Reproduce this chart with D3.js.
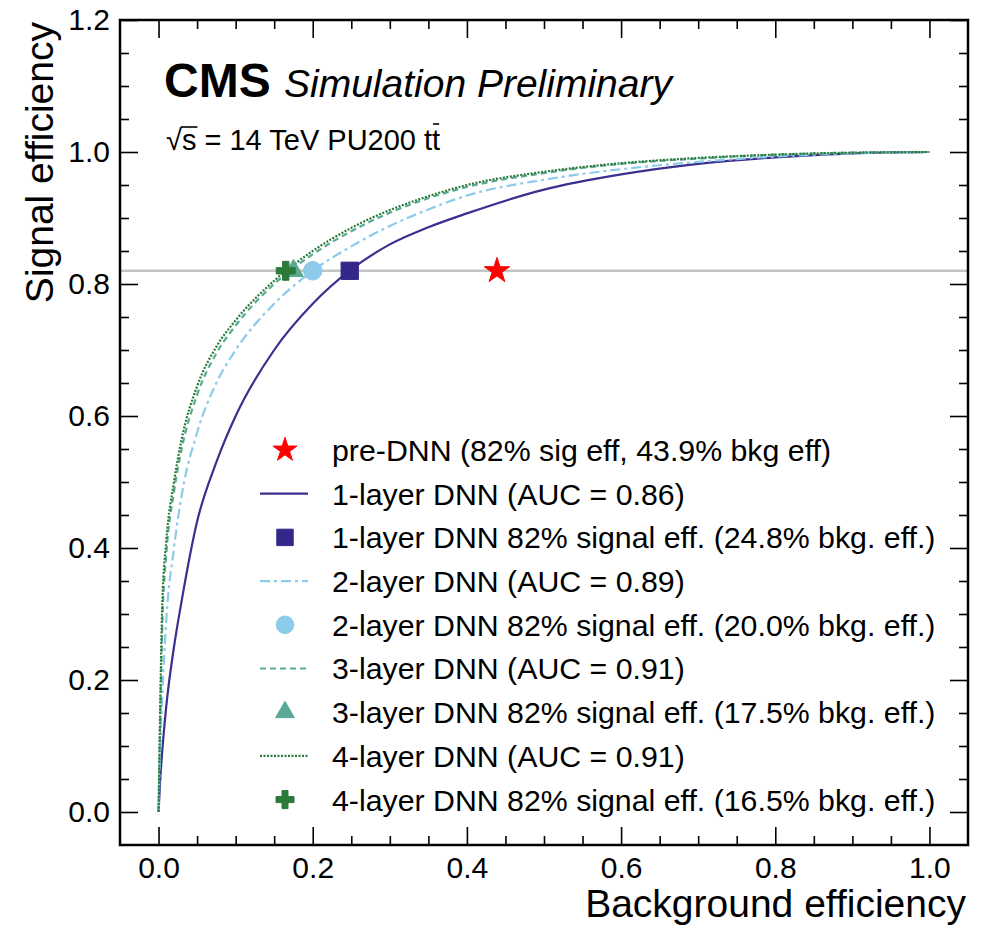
<!DOCTYPE html>
<html>
<head>
<meta charset="utf-8">
<script src="https://cdn.jsdelivr.net/npm/d3@7"></script>
<style>
  body { margin: 0; background: #fff; }
  text { font-family: "Liberation Sans", Arial, sans-serif; fill: #000; }
</style>
</head>
<body>
<svg id="chart" width="989" height="929"></svg>
<script>
// background efficiency grid shared by all ROC curves
const bkgEff = [0, 0.002, 0.005, 0.01, 0.02, 0.03, 0.05, 0.075, 0.1, 0.15, 0.2, 0.25, 0.3, 0.35, 0.4, 0.5, 0.6, 0.7, 0.8, 0.9, 1.0];
// signal efficiency
const sig1Layer = [0, 0.045, 0.095, 0.16, 0.25, 0.32, 0.44, 0.53, 0.60, 0.70, 0.77, 0.822, 0.86, 0.886, 0.907, 0.943, 0.966, 0.982, 0.992, 0.998, 1.0];
const sig2Layer = [0, 0.09, 0.18, 0.29, 0.40, 0.48, 0.575, 0.65, 0.70, 0.77, 0.82, 0.857, 0.888, 0.913, 0.934, 0.958, 0.974, 0.985, 0.993, 0.998, 1.0];
const sig3Layer = [0, 0.13, 0.29, 0.39, 0.485, 0.55, 0.632, 0.695, 0.737, 0.80, 0.845, 0.88, 0.908, 0.93, 0.947, 0.968, 0.982, 0.99, 0.996, 0.999, 1.0];
const sig4Layer = [0, 0.15, 0.32, 0.41, 0.50, 0.565, 0.645, 0.705, 0.745, 0.805, 0.85, 0.885, 0.912, 0.933, 0.95, 0.97, 0.983, 0.991, 0.996, 0.999, 1.0];

// working points at 82% signal efficiency
const wpSignal = 0.82;
const wpBkg = [0.439, 0.248, 0.200, 0.175, 0.165];

const xMajorTicks = [0, 0.2, 0.4, 0.6, 0.8, 1.0];
const yMajorTicks = [0, 0.2, 0.4, 0.6, 0.8, 1.0, 1.2];

const legendLabels = [
  "pre-DNN (82% sig eff, 43.9% bkg eff)",
  "1-layer DNN (AUC = 0.86)",
  "1-layer DNN 82% signal eff. (24.8% bkg. eff.)",
  "2-layer DNN (AUC = 0.89)",
  "2-layer DNN 82% signal eff. (20.0% bkg. eff.)",
  "3-layer DNN (AUC = 0.91)",
  "3-layer DNN 82% signal eff. (17.5% bkg. eff.)",
  "4-layer DNN (AUC = 0.91)",
  "4-layer DNN 82% signal eff. (16.5% bkg. eff.)"
];

const svg = d3.select("#chart");
const plotLeft = 120, plotTop = 20, plotRight = 968, plotBottom = 845;

const x = d3.scaleLinear().domain([-0.05, 1.05]).range([plotLeft, plotRight]);
const y = d3.scaleLinear().domain([-0.05, 1.2]).range([plotBottom, plotTop]);

const purple = "#3b2f8f", lightBlue = "#8ccbea", teal = "#5aa996", green = "#2b7a38";

// minor ticks every 0.05
function minors(lo, hi, majors) {
  const out = [];
  for (let i = Math.round(lo / 0.05); i <= Math.round(hi / 0.05); i++) {
    const v = +(i * 0.05).toFixed(2);
    if (!majors.some(m => Math.abs(m - v) < 1e-6)) out.push(v);
  }
  return out;
}
const xMinor = minors(0.05, 1.0, xMajorTicks);
const yMinor = minors(0.05, 1.15, yMajorTicks);

// axes (ticks point inward on all four sides)
const fmt = d3.format(".1f");
function addAxis(axisFn, scale, pos, values, size, labels) {
  const g = svg.append("g")
    .attr("transform", pos)
    .call(axisFn(scale).tickValues(values).tickSize(-size).tickPadding(8)
      .tickFormat(labels ? fmt : ""));
  g.select(".domain").remove();
  g.selectAll("line").attr("stroke", "#000").attr("stroke-width", 1.6);
  return g;
}
const xb = addAxis(d3.axisBottom, x, `translate(0,${plotBottom})`, xMajorTicks, 18, true);
addAxis(d3.axisBottom, x, `translate(0,${plotBottom})`, xMinor, 9, false);
addAxis(d3.axisTop, x, `translate(0,${plotTop})`, xMajorTicks, 18, false);
addAxis(d3.axisTop, x, `translate(0,${plotTop})`, xMinor, 9, false);
const yl = addAxis(d3.axisLeft, y, `translate(${plotLeft},0)`, yMajorTicks, 18, true);
addAxis(d3.axisLeft, y, `translate(${plotLeft},0)`, yMinor, 9, false);
addAxis(d3.axisRight, y, `translate(${plotRight},0)`, yMajorTicks, 18, false);
addAxis(d3.axisRight, y, `translate(${plotRight},0)`, yMinor, 9, false);

xb.selectAll("text").attr("font-size", 30).attr("y", 12).attr("dy", "0.71em")
  .style("font-family", "'Liberation Sans', Arial, sans-serif").attr("fill", "#111");
yl.selectAll("text").attr("font-size", 30).attr("x", -10)
  .style("font-family", "'Liberation Sans', Arial, sans-serif").attr("fill", "#111");

// horizontal reference line at 82% signal efficiency
svg.append("line")
  .attr("x1", plotLeft).attr("x2", plotRight)
  .attr("y1", y(wpSignal)).attr("y2", y(wpSignal))
  .attr("stroke", "#c4c4c4").attr("stroke-width", 2.5);

// ROC curves
svg.append("clipPath").attr("id", "plotClip")
  .append("rect").attr("x", plotLeft).attr("y", plotTop)
  .attr("width", plotRight - plotLeft).attr("height", plotBottom - plotTop);

const curves = [
  { sig: sig1Layer, color: purple, dash: null, width: 2.2 },
  { sig: sig2Layer, color: lightBlue, dash: "10,4,3,4", width: 2.2 },
  { sig: sig3Layer, color: teal, dash: "6,4", width: 2.2 },
  { sig: sig4Layer, color: green, dash: "2,1.5", width: 2.2 }
];
const line = d3.line().x(d => x(d[0])).y(d => y(d[1])).curve(d3.curveMonotoneX);

svg.append("g").attr("clip-path", "url(#plotClip)")
  .selectAll("path")
  .data(curves)
  .enter()
  .append("path")
  .attr("d", c => line(bkgEff.map((b, i) => [b, c.sig[i]])))
  .attr("fill", "none")
  .attr("stroke", d => d.color)
  .attr("stroke-width", d => d.width)
  .attr("stroke-dasharray", d => d.dash);

// markers
const markers = [
  { type: d3.symbolStar, size: 200, color: "#ff0000" },
  { type: d3.symbolSquare, size: 300, color: "#33288a" },
  { type: d3.symbolCircle, size: 270, color: lightBlue },
  { type: d3.symbolTriangle, size: 170, color: teal },
  { type: d3.symbolCross, size: 200, color: green }
];
svg.append("g")
  .selectAll("path")
  .data(markers.map((m, i) => ({ ...m, bkg: wpBkg[i] })))
  .enter()
  .append("path")
  .attr("transform", d => `translate(${x(d.bkg)},${y(wpSignal)})`)
  .attr("d", d => d3.symbol().type(d.type).size(d.size)())
  .attr("fill", d => d.color)
  .attr("stroke", d => d.color)
  .attr("stroke-width", 1)
  .attr("stroke-linejoin", "round");

// legend
const legendX = 285, legendY0 = 450, legendStep = 43.7;
const legendItems = legendLabels.map((label, i) => {
  if (i === 0) return { label, kind: "marker", m: markers[0] };
  const k = Math.floor((i - 1) / 2);
  return (i - 1) % 2 === 0
    ? { label, kind: "line", c: curves[k] }
    : { label, kind: "marker", m: markers[k + 1] };
});
const lg = svg.append("g");
legendItems.forEach((item, i) => {
  const cy = legendY0 + i * legendStep;
  if (item.kind === "line") {
    lg.append("line")
      .attr("x1", legendX - 25).attr("x2", legendX + 23)
      .attr("y1", cy).attr("y2", cy)
      .attr("stroke", item.c.color).attr("stroke-width", 2.2)
      .attr("stroke-dasharray", item.c.dash);
  } else {
    lg.append("path")
      .attr("transform", `translate(${legendX},${cy})`)
      .attr("d", d3.symbol().type(item.m.type).size(item.m.size * 0.9)())
      .attr("fill", item.m.color)
      .attr("stroke", item.m.color)
      .attr("stroke-width", 1)
      .attr("stroke-linejoin", "round");
  }
  lg.append("text")
    .attr("x", 332).attr("y", cy).attr("dy", "0.36em")
    .attr("font-size", 30.3).attr("fill", "#111")
    .text(item.label);
});

// frame
svg.append("rect")
  .attr("x", plotLeft).attr("y", plotTop)
  .attr("width", plotRight - plotLeft).attr("height", plotBottom - plotTop)
  .attr("fill", "none").attr("stroke", "#000").attr("stroke-width", 2.5);

// CMS label
svg.append("text").attr("x", 164).attr("y", 97)
  .attr("font-size", 48).attr("font-weight", "bold").text("CMS");
svg.append("text").attr("x", 284).attr("y", 97)
  .attr("font-size", 39).attr("font-style", "italic").text("Simulation Preliminary");

// sqrt(s) line with overlines drawn by hand
const energy = svg.append("text").attr("x", 166).attr("y", 150).attr("font-size", 29);
energy.text("√s = 14 TeV PU200 tt");
const en = energy.node();
const full = en.textContent;
const sx0 = en.getStartPositionOfChar(1).x;
const sx1 = en.getEndPositionOfChar(1).x;
svg.append("line").attr("x1", sx0 - 1).attr("x2", sx1 + 1)
  .attr("y1", 127).attr("y2", 127).attr("stroke", "#000").attr("stroke-width", 1.6);
const tIdx = full.length - 1;
const tx0 = en.getStartPositionOfChar(tIdx).x;
const tx1 = en.getEndPositionOfChar(tIdx).x;
svg.append("line").attr("x1", tx0 + 1).attr("x2", tx1 - 1)
  .attr("y1", 124).attr("y2", 124).attr("stroke", "#000").attr("stroke-width", 1.6);

// axis titles
svg.append("text").attr("x", 966).attr("y", 917)
  .attr("text-anchor", "end").attr("font-size", 39).text("Background efficiency");
svg.append("text").attr("transform", "translate(53,22) rotate(-90)")
  .attr("text-anchor", "end").attr("font-size", 39).text("Signal efficiency");
</script>
</body>
</html>
